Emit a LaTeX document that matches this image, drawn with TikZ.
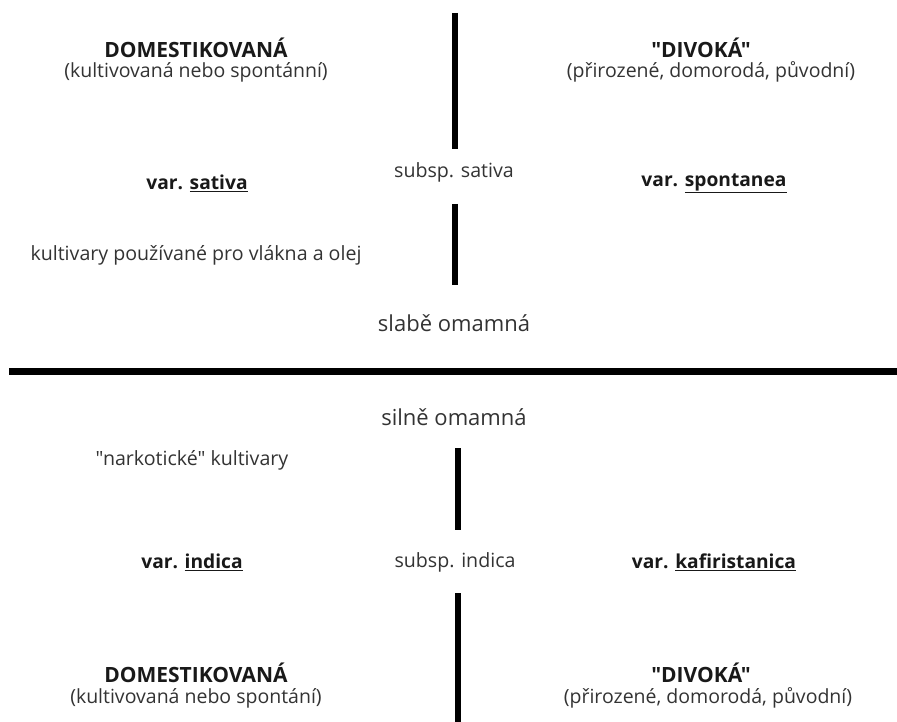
\documentclass[tikz,border=0pt]{standalone}
\usepackage{fontspec}
\setmainfont{Open Sans}[Ligatures=TeXOff]
\newcommand\qq{"}
\begin{document}
\begin{tikzpicture}[x=1pt,y=-1pt,
  bar/.style={line width=6pt, black},
  head/.style={font=\fontsize{21}{23}\selectfont\bfseries, text=black!90, inner sep=0pt},
  sub/.style={font=\fontsize{19.5}{21}\selectfont, text=black!80, inner sep=0pt},
  lab/.style={font=\fontsize{19.6}{21}\selectfont, text=black!80, inner sep=0pt},
  big/.style={font=\fontsize{22}{24}\selectfont, text=black!80, inner sep=0pt},
  var/.style={font=\fontsize{19.2}{21}\selectfont\bfseries, text=black!90, inner sep=0pt},
  ]
\useasboundingbox[fill=white] (0,0) rectangle (897,722);
% bars
\coordinate (b1t) at (455,13); \coordinate (b1b) at (455,149);
\coordinate (b2t) at (455,204); \coordinate (b2b) at (455,285);
\coordinate (hl) at (9,371); \coordinate (hr) at (897,371);
\coordinate (b3t) at (458,448); \coordinate (b3b) at (458,530);
\coordinate (b4t) at (458,593); \coordinate (b4b) at (458,722);
\draw[bar] (b1t) -- (b1b);
\draw[bar] (b2t) -- (b2b);
\draw[bar, line width=7pt] (hl) -- (hr);
\draw[bar] (b3t) -- (b3b);
\draw[bar] (b4t) -- (b4b);
% top half
\node[head] (dom1) at (196,48) {DOMESTIKOVANÁ};
\node[sub] (dom1s) at (196,72) {(kultivovaná nebo spontánní)};
\node[head] (div1) at (701,48) {\qq DIVOKÁ\qq};
\node[sub] (div1s) at (711,72) {(přirozené, domorodá, původní)};
\node[var] (sat) at (197,183) {var. \underline{sativa}};
\node[lab] (ssat) at (454,172) {subsp. sativa};
\node[var] (spo) at (714,183) {var. \underline{spontanea}};
\node[lab] (kult) at (196,255) {kultivary používané pro vlákna a olej};
\node[big] (slabe) at (454,323) {slabě omamná};
% bottom half
\node[big] (silne) at (454,417) {silně omamná};
\node[lab] (nark) at (192,460) {\qq narkotické\qq\ kultivary};
\node[var] (ind) at (192,562) {var. \underline{indica}};
\node[lab] (sind) at (455,562) {subsp. indica};
\node[var] (kaf) at (714,562) {var. \underline{kafiristanica}};
\node[head] (dom2) at (196,673) {DOMESTIKOVANÁ};
\node[sub] (dom2s) at (196,698) {(kultivovaná nebo spontání)};
\node[head] (div2) at (701,673) {\qq DIVOKÁ\qq};
\node[sub] (div2s) at (708,698) {(přirozené, domorodá, původní)};
\end{tikzpicture}
\end{document}
